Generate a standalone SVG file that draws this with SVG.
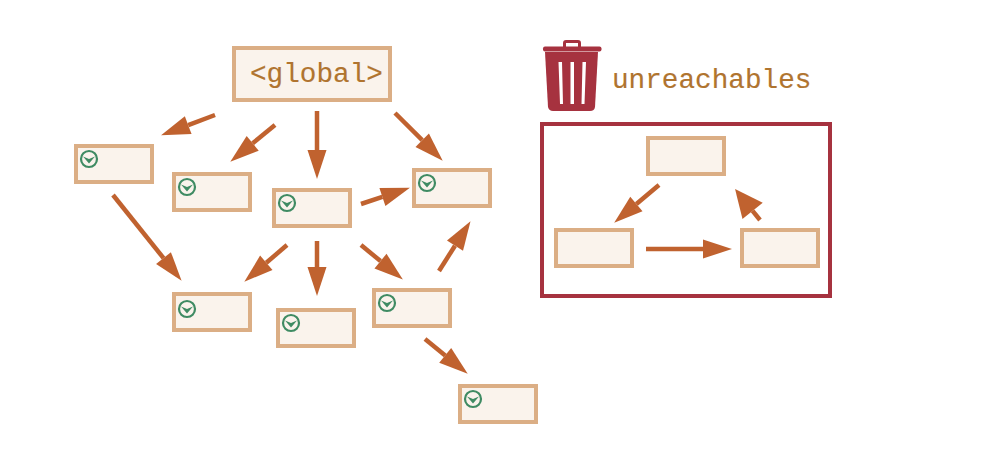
<svg xmlns="http://www.w3.org/2000/svg" width="982" height="458" viewBox="0 0 982 458">
<style>
.box{fill:#faf3ec;stroke:#dbae85;stroke-width:4}
.arr{fill:none;stroke:#c0622f;stroke-width:4.500;marker-end:url(#head)}
.txt{font-family:"Liberation Mono","DejaVu Sans Mono",monospace;font-size:27.700px;fill:#b0742f;stroke:#b0742f;stroke-width:.15}
.trash{fill:#a6323f}
</style>
<defs>
<marker id="head" markerUnits="userSpaceOnUse" markerWidth="30" markerHeight="20" refX="0" refY="10" orient="auto" overflow="visible">
<path d="M0 0.500L29 10L0 19.500Z" fill="#c0622f"/>
</marker>
<marker id="head-big" markerUnits="userSpaceOnUse" markerWidth="30" markerHeight="28" refX="0" refY="14" orient="auto" overflow="visible">
<path d="M0 1L28 14L0 27Z" fill="#c0622f"/>
</marker>
<g id="check">
<circle cx="0" cy="0" r="8" fill="#faf3ec" stroke="#3f8b63" stroke-width="2.200"/>
<path d="M-6 -2.500L0 0L6 -2.500L0 4.500Z" fill="#3f8b63"/>
</g>
</defs>
<rect width="982" height="458" fill="#fff"/>
<g id="connectors">
<path class="arr" d="M215 115L188.200 125.100"/>
<path class="arr" d="M275 125L252.700 143.300"/>
<path class="arr" d="M317 111V150"/>
<path class="arr" d="M395 113L422.200 140.200"/>
<path class="arr" d="M361 204L382.400 196.900"/>
<path class="arr" d="M113 195L163.500 258.100"/>
<path class="arr" d="M287 245L266.300 262.800"/>
<path class="arr" d="M317 241V267"/>
<path class="arr" d="M361 245L380.500 261.100"/>
<path class="arr" d="M439 271L455 245.700"/>
<path class="arr" d="M425 339L445.200 355.400"/>
<path class="arr" d="M659 185L636.400 204"/>
<path class="arr" d="M646 249H703"/>
<path class="arr" style="marker-end:url(#head-big)" d="M760 220L752.600 210.800"/>
</g>
<g id="global"><rect class="box" x="234" y="48" width="156" height="52"/><text class="txt" x="250" y="82">&lt;global&gt;</text></g>
<g id="n1"><rect class="box" x="76" y="146" width="76" height="36"/><use href="#check" x="89" y="159"/></g>
<g id="n2"><rect class="box" x="174" y="174" width="76" height="36"/><use href="#check" x="187" y="187"/></g>
<g id="n3"><rect class="box" x="274" y="190" width="76" height="36"/><use href="#check" x="287" y="203"/></g>
<g id="n4"><rect class="box" x="414" y="170" width="76" height="36"/><use href="#check" x="427" y="183"/></g>
<g id="n5"><rect class="box" x="174" y="294" width="76" height="36"/><use href="#check" x="187" y="309"/></g>
<g id="n6"><rect class="box" x="278" y="310" width="76" height="36"/><use href="#check" x="291" y="323"/></g>
<g id="n7"><rect class="box" x="374" y="290" width="76" height="36"/><use href="#check" x="387" y="303"/></g>
<g id="n8"><rect class="box" x="460" y="386" width="76" height="36"/><use href="#check" x="473" y="399"/></g>
<g id="trash">
<path class="trash" d="M563 47V43Q563 40 566 40H578Q581 40 581 43V47H578V43H566V47Z"/>
<rect class="trash" x="543" y="46.500" width="58.500" height="5" rx="2"/>
<path class="trash" d="M545 52H598L595 107Q594.500 111 590 111H553Q549 111 548 107Z"/>
<path d="M558.500 62H562L563 104H560Z M570.500 62H574V104H570.500Z M582.500 62H586L584.500 104H581.500Z" fill="#fff"/>
<text class="txt" x="612" y="88">unreachables</text>
</g>
<g id="unreachable-box"><rect x="542" y="124" width="288" height="172" fill="none" stroke="#a6323f" stroke-width="4"/></g>
<g id="u1"><rect class="box" x="648" y="138" width="76" height="36"/></g>
<g id="u2"><rect class="box" x="556" y="230" width="76" height="36"/></g>
<g id="u3"><rect class="box" x="742" y="230" width="76" height="36"/></g>
</svg>
